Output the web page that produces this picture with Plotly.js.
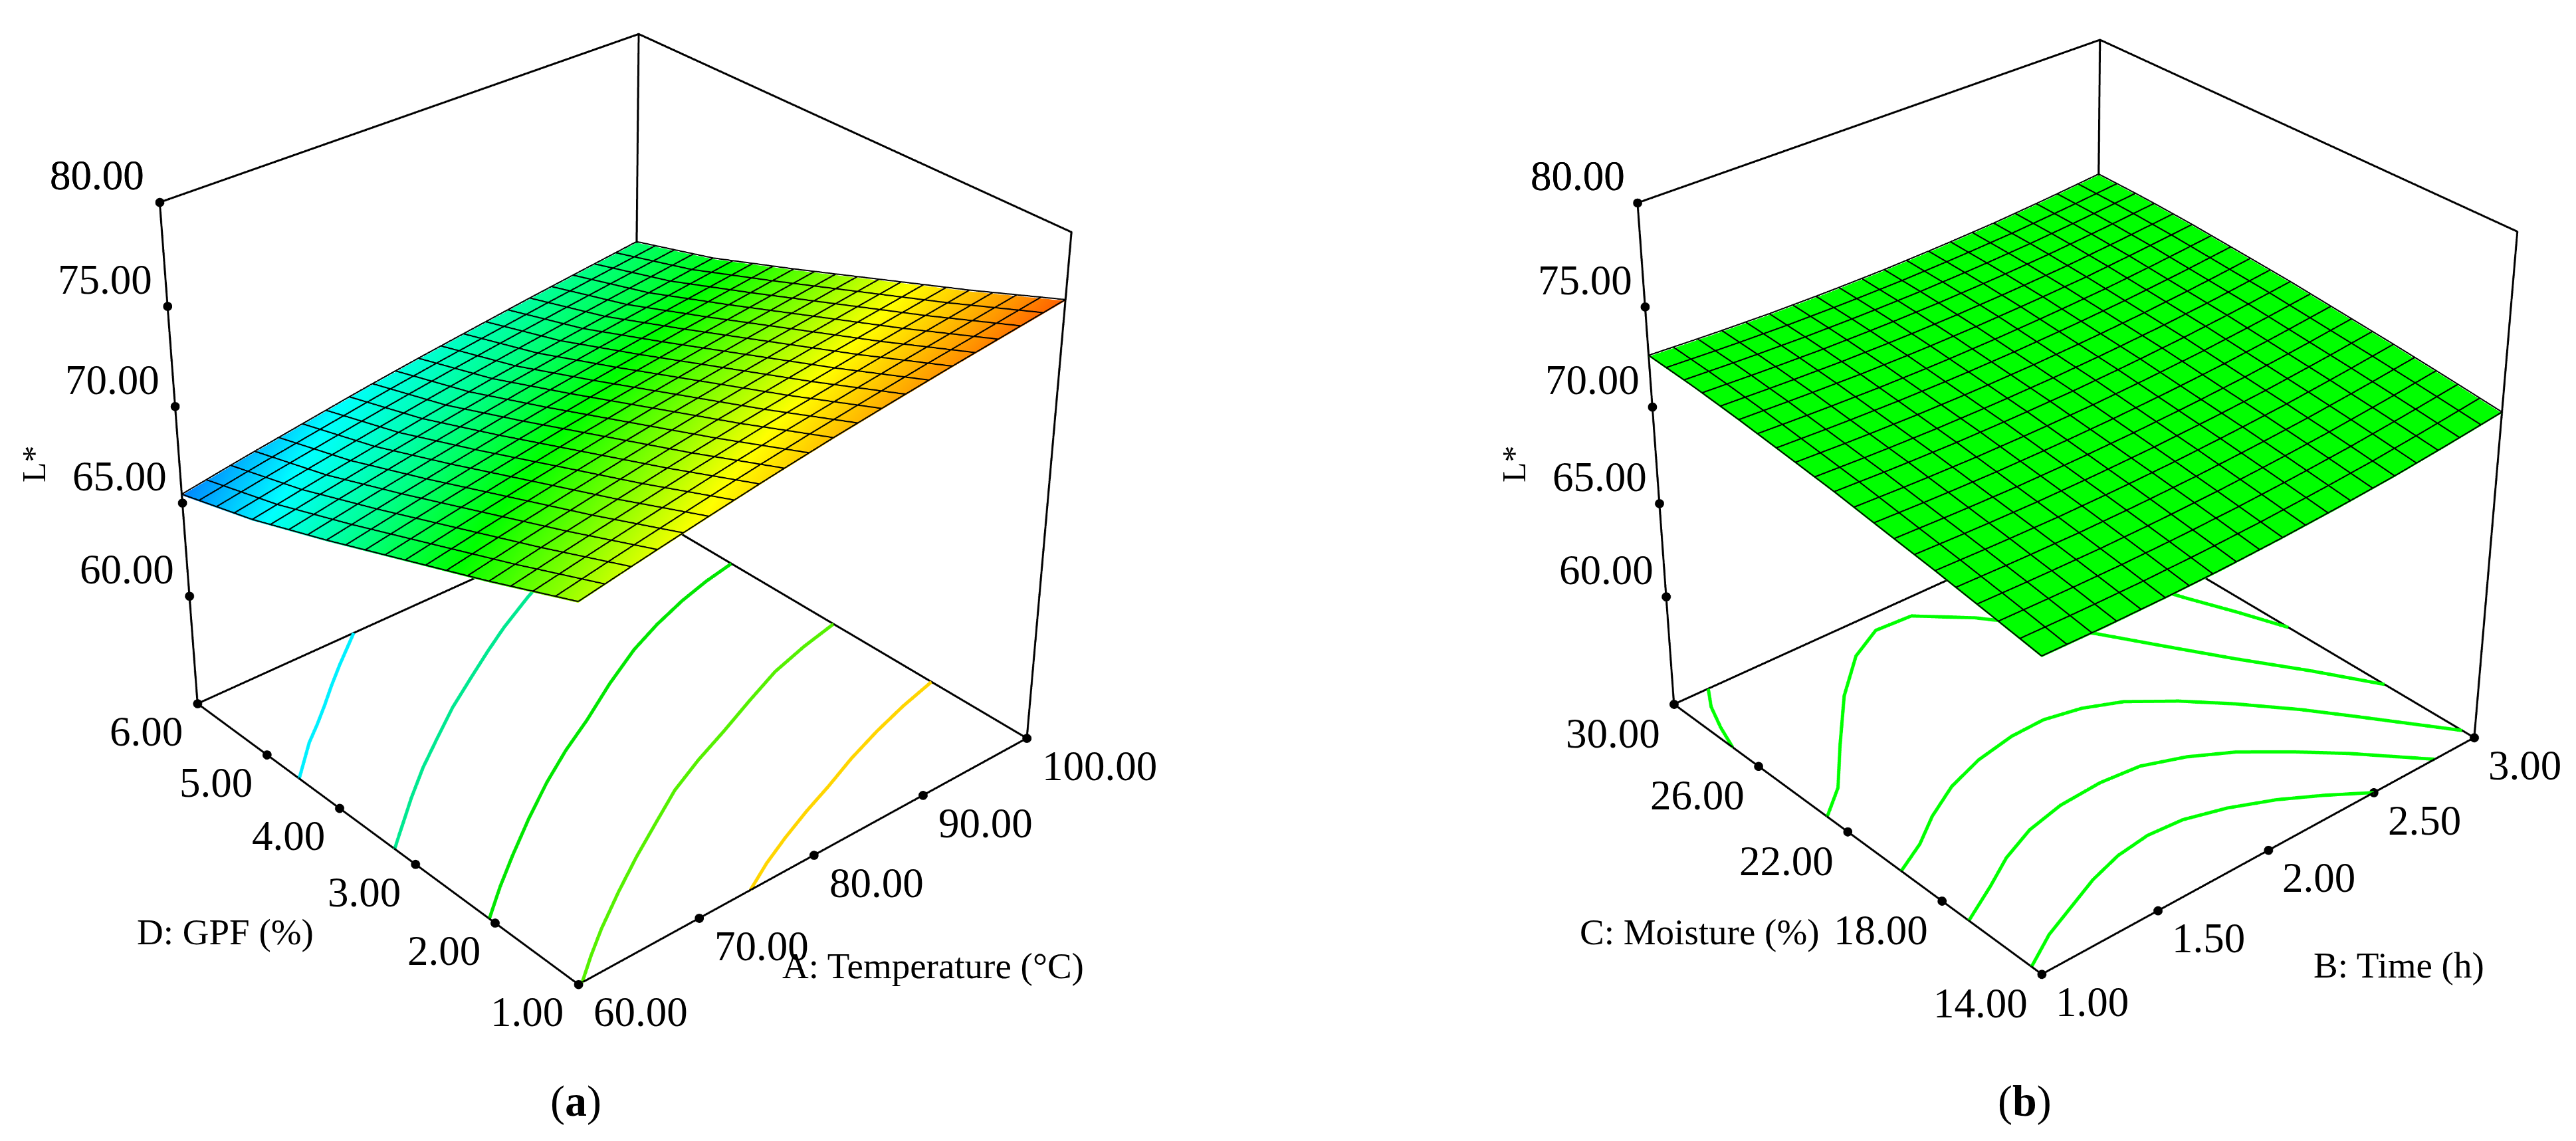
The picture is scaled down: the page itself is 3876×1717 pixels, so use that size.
<!DOCTYPE html>
<html><head><meta charset="utf-8">
<script src="https://cdn.plot.ly/plotly-3.0.1.min.js"></script>
<style>html,body{margin:0;padding:0;width:3876px;height:1717px;overflow:hidden;background:#fff}
#gd{position:absolute;left:-125px;top:-1163px;width:4200px;height:4223px}</style></head>
<body><div id="gd"></div>
<script>
// ---- panel (a)
const tempTicks=[60,70,80,90,100], gpfTicks=[1,2,3,4,5,6], lTicks=[60,65,70,75,80];
const tempGrid=[60,65,70,75,80,85,90,95,100], gpfGrid=[1,2,3,4,5,6];
const lA=[
[73.00,73.59,74.14,74.67,75.15,75.58,75.99,76.37,76.75],
[71.30,71.89,72.43,72.96,73.44,73.87,74.28,74.66,75.04],
[69.70,70.28,70.83,71.35,71.83,72.26,72.67,73.05,73.43],
[68.10,68.68,69.22,69.74,70.22,70.65,71.06,71.44,71.82],
[66.60,67.17,67.70,68.21,68.68,69.11,69.51,69.89,70.27],
[65.40,65.97,66.49,67.01,67.47,67.89,68.30,68.68,69.05]];
const cyanT=[60,61.5,63,64.7,66.4,68.3,70.3,73.5], cyanG=[4.55,4.73,4.91,5.08,5.26,5.47,5.68,6];
const springT=[60,64.3,67,69.8,73,76.4,79.2,82,85.8,90,95,98], springG=[3.27,3.73,4.0,4.25,4.53,4.79,5.0,5.2,5.44,5.68,5.88,6];
const greenT=[60,62.6,65.3,68.7,72.1,75.5,78.9,83,87.1,90.5,93.9,97,100], greenG=[2.07,2.33,2.58,2.88,3.16,3.41,3.63,3.92,4.18,4.35,4.49,4.59,4.66];
const limeT=[60.3,62.4,64.65,68,71.3,74.7,78,81.5,85.1,88.9,92.7,96.4,100], limeG=[1,1.2,1.40,1.67,1.92,2.16,2.39,2.58,2.75,2.94,3.12,3.24,3.33];
const goldT=[74.4,77.1,79.9,83,86,89.4,92.9,96.4,100], goldG=[1,1.17,1.32,1.47,1.60,1.76,1.90,2.02,2.12];
// ---- panel (b)
const timeTicks=[1,1.5,2,2.5,3], moistTicks=[14,18,22,26,30];
const timeGrid=[1,1.25,1.5,1.75,2,2.25,2.5,2.75,3], moistGrid=[14,16,18,20,22,24,26,28,30];
const lB=[
[70.01,69.96,69.97,70.03,70.16,70.34,70.57,70.88,71.23],
[70.43,70.38,70.37,70.42,70.53,70.70,70.93,71.22,71.56],
[70.83,70.76,70.74,70.78,70.88,71.04,71.25,71.53,71.86],
[71.19,71.11,71.08,71.11,71.20,71.34,71.54,71.81,72.13],
[71.56,71.46,71.42,71.44,71.51,71.65,71.84,72.09,72.40],
[71.86,71.75,71.70,71.70,71.77,71.89,72.07,72.31,72.61],
[72.15,72.04,71.97,71.96,72.02,72.13,72.29,72.53,72.81],
[72.39,72.26,72.18,72.16,72.20,72.30,72.46,72.68,72.95],
[72.54,72.40,72.31,72.28,72.31,72.40,72.54,72.75,73.01]];
const c1B=[1,1.15,1.3,1.45,1.6,1.75,1.9,2.06,2.22,2.36,2.5], c1M=[14.4,15.1,15.6,16.1,16.45,16.6,16.5,16.1,15.5,14.8,14];
const c2B=[1,1.17,1.31,1.47,1.64,1.83,2.00,2.16,2.31,2.46,2.60,2.80], c2M=[16.9,17.65,18.32,18.86,19.16,19.24,19.1,18.58,17.85,16.82,15.75,14];
const c3B=[1,1.14,1.27,1.43,1.60,1.78,1.93,2.08,2.22,2.37,2.51,2.66,2.78,3], c3M=[19.7,20.3,21.05,21.77,22.25,22.52,22.55,22.27,21.74,20.74,19.59,18.18,16.89,14.46];
const c4B=[1,1.13,1.29,1.49,1.68,1.84,2.0,2.17,2.31,2.44,2.57,2.71,2.86,3], c4M=[22.9,23.76,25.31,27.17,28.56,29.25,29.17,27.86,26.4,24.85,23.1,21.25,19.4,17.5];
const c5B=[3,2.93,2.85,2.77,2.68,2.6], c5M=[21.44,23,24.6,26.4,28.2,30];
const c6B=[1,1.04,1.09,1.15], c6M=[27.2,28.2,29.2,30];

const zFloor=54, zTop=80, meshCells=20;
const FONT='"Liberation Serif", serif';
const rainbow=[[0,'#0088ff'],[0.124,'#00ffff'],[0.298,'#00ff80'],[0.463,'#00ff00'],[0.64,'#90ff00'],[0.76,'#ffff00'],[0.93,'#ff9500'],[1,'#ff6000']];
const flat={ambient:1,diffuse:0,specular:0,roughness:1,fresnel:0};

function frame(xr,yr,scene){
  const [x0,x1]=xr,[y0,y1]=yr,a=zFloor,b=zTop;
  return {type:'scatter3d',mode:'lines',scene,hoverinfo:'skip',showlegend:false,
    x:[x0,x0,x1,x1,x1,x0,x0,null,x1,x1,null,x0,x1,x1],
    y:[y1,y1,y1,y0,y0,y0,y1,null,y1,y1,null,y1,y1,y0],
    z:[a,b,b,b,a,a,a,null,b,a,null,a,a,a],
    line:{color:'#000',width:6}};
}
function dots(xt,yt,xr,yr,scene){
  const xs=[],ys=[],zs=[];
  xt.forEach(v=>{xs.push(v);ys.push(yr[0]);zs.push(zFloor)});
  yt.forEach(v=>{xs.push(xr[0]);ys.push(v);zs.push(zFloor)});
  lTicks.forEach(v=>{xs.push(xr[0]);ys.push(yr[1]);zs.push(v)});
  xs.push(xr[0]);ys.push(yr[1]);zs.push(zTop);
  return {type:'scatter3d',mode:'markers',scene,hoverinfo:'skip',showlegend:false,x:xs,y:ys,z:zs,
    marker:{color:'#000',size:8,line:{width:0}}};
}
function iso(xs,ys,color,scene){
  return {type:'scatter3d',mode:'lines',scene,hoverinfo:'skip',showlegend:false,
    x:xs,y:ys,z:xs.map(()=>zFloor),line:{color,width:10}};
}
// surface value at (x,y), looked up in the surface's own table
function surfAt(xg,yg,zt,x,y){
  const idx=(g,v)=>{let i=0;while(i<g.length-2&&v>g[i+1])i++;return [i,(v-g[i])/(g[i+1]-g[i])]};
  const [i,s]=idx(xg,x),[j,t]=idx(yg,y);
  return (zt[j][i]*(1-s)+zt[j][i+1]*s)*(1-t)+(zt[j+1][i]*(1-s)+zt[j+1][i+1]*s)*t;
}
// the surface's wire mesh, sitting just above it
function mesh(xg,yg,zt,scene){
  const xs=[],ys=[],zs=[],n=meshCells,lift=0.06;
  const X=k=>xg[0]+(xg[xg.length-1]-xg[0])*k/n,Y=k=>yg[0]+(yg[yg.length-1]-yg[0])*k/n;
  for(let a=0;a<=n;a++){
    for(let b=0;b<=n;b++){xs.push(X(a));ys.push(Y(b));zs.push(surfAt(xg,yg,zt,X(a),Y(b))+lift)}
    xs.push(null);ys.push(null);zs.push(null);
    for(let b=0;b<=n;b++){xs.push(X(b));ys.push(Y(a));zs.push(surfAt(xg,yg,zt,X(b),Y(a))+lift)}
    xs.push(null);ys.push(null);zs.push(null);
  }
  return {type:'scatter3d',mode:'lines',scene,hoverinfo:'skip',showlegend:false,x:xs,y:ys,z:zs,line:{color:'#000',width:4}};
}
function labels(xt,xfmt,yt,yfmt,xr,yr,sh){
  const out=[],f={family:FONT,size:63,color:'#000'};
  const add=(x,y,z,text,xs,ys)=>out.push({x,y,z,text,showarrow:false,xshift:xs,yshift:ys,font:f});
  xt.forEach(v=>{const t=xfmt(v);add(v,yr[0],zFloor,t,sh.x[0]+(t.length>5?15:0),sh.x[1])});
  yt.forEach(v=>add(xr[0],v,zFloor,yfmt(v),sh.y[0],sh.y[1]));
  lTicks.concat([zTop]).forEach(v=>add(xr[0],yr[1],v,v.toFixed(2),sh.z[0],sh.z[1]));
  return out;
}
const fmt=v=>v.toFixed(2);
const data=[
 {type:'surface',scene:'scene',x:tempGrid,y:gpfGrid,z:lA,colorscale:rainbow,cmin:65.4,cmax:76.75,showscale:false,
  lighting:flat,hoverinfo:'skip'},
 mesh(tempGrid,gpfGrid,lA,'scene'),
 frame([60,100],[1,6],'scene'),dots(tempTicks,gpfTicks,[60,100],[1,6],'scene'),
 iso(cyanT,cyanG,'#00f0ff','scene'),iso(springT,springG,'#00e890','scene'),iso(greenT,greenG,'#00e600','scene'),
 iso(limeT,limeG,'#55f000','scene'),iso(goldT,goldG,'#ffd500','scene'),
 {type:'surface',scene:'scene2',x:timeGrid,y:moistGrid,z:lB,colorscale:[[0,'#00ff00'],[1,'#00ff00']],cmin:69,cmax:74,showscale:false,
  lighting:flat,hoverinfo:'skip'},
 mesh(timeGrid,moistGrid,lB,'scene2'),
 frame([1,3],[14,30],'scene2'),dots(timeTicks,moistTicks,[1,3],[14,30],'scene2'),
 iso(c1B,c1M,'#00ff00','scene2'),iso(c2B,c2M,'#00ff00','scene2'),iso(c3B,c3M,'#00ff00','scene2'),
 iso(c4B,c4M,'#00ff00','scene2'),iso(c5B,c5M,'#00ff00','scene2'),iso(c6B,c6M,'#00ff00','scene2')
];
const W=4200,H=4223,divLeft=125,divTop=1163;
const hidden=r=>({visible:false,range:r,autorange:false});
const cam={eye:{x:-3.115,y:-3.535,z:2.805},center:{x:-0.123,y:-0.071,z:-0.201},up:{x:0,y:0,z:1},projection:{type:'perspective'}};
const sceneBase=(xr,yr,zr,dom,asp,ann)=>({domain:{x:dom,y:[0,1]},bgcolor:'#fff',aspectmode:'manual',aspectratio:asp,
  xaxis:hidden(xr),yaxis:hidden(yr),zaxis:hidden(zr),camera:cam,annotations:ann,dragmode:false});
const pa=(px,py,text,size,angle)=>({xref:'paper',yref:'paper',x:(px+divLeft)/W,y:1-(py+divTop)/H,text,showarrow:false,
  xanchor:'center',yanchor:'middle',textangle:angle||0,font:{family:FONT,size,color:'#000'}});
const layout={width:W,height:H,margin:{l:0,r:0,t:0,b:0},paper_bgcolor:'#fff',showlegend:false,
 scene:sceneBase([59.9,100.1],[0.9875,6.0125],[53.93,80.07],[0,2000/W],{x:1,y:1,z:0.95},labels(tempTicks,fmt,gpfTicks,fmt,[60,100],[1,6],{x:[94,-42],y:[-77,-42],z:[-94,40]})),
 scene2:sceneBase([0.995,3.005],[13.96,30.04],[53.93,80.07],[2200/W,4200/W],{x:0.965,y:0.965,z:0.95},labels(timeTicks,fmt,moistTicks,fmt,[1,3],[14,30],{x:[76,-42],y:[-92,-44],z:[-90,40]})),
 annotations:[pa(339,1402,'D: GPF (%)',55),pa(1404,1453,'A: Temperature (°C)',55),pa(51,698,'L*',50,-90),pa(866,1657,'(<b>a</b>)',66),
  pa(2557,1402,'C: Moisture (%)',55),pa(3609,1452,'B: Time (h)',55),pa(2278,698,'L*',50,-90),pa(3046,1657,'(<b>b</b>)',66)]};
Plotly.newPlot('gd',data,layout,{displayModeBar:false,plotGlPixelRatio:1.5,responsive:false});
</script></body></html>
